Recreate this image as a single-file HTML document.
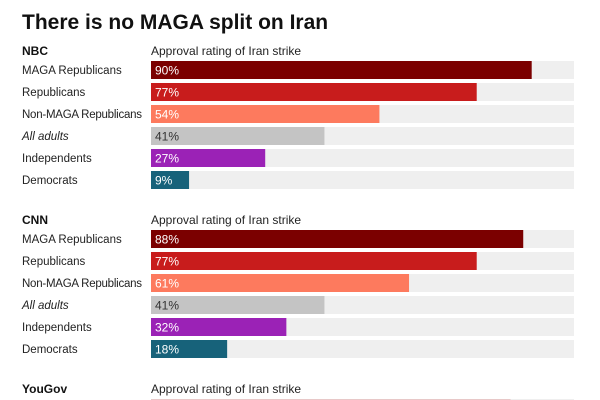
<!DOCTYPE html>
<html><head><meta charset="utf-8">
<style>
html,body{margin:0;padding:0;background:#fff;width:600px;height:400px;overflow:hidden;font-family:"Liberation Sans",sans-serif;}
svg text{font-family:"Liberation Sans",sans-serif;}
</style></head>
<body>
<svg id="chart" width="600" height="400" xmlns="http://www.w3.org/2000/svg">
<text x="22" y="29" font-size="21" font-weight="bold" fill="#111">There is no MAGA split on Iran</text>
</svg>
<script>
const pollsters = ["NBC", "CNN", "YouGov"];
const groups = ["MAGA Republicans", "Republicans", "Non-MAGA Republicans", "All adults", "Independents", "Democrats"];
const nbcValues = [90, 77, 54, 41, 27, 9];
const cnnValues = [88, 77, 61, 41, 32, 18];
const yougovValues = [85, 75, 55, 40, 25, 10];
const allValues = [nbcValues, cnnValues, yougovValues];
const colors = ["#7b0000", "#c81c1c", "#fd7a5e", "#c4c4c4", "#9b22b6", "#17627a"];

const svg = document.getElementById('chart');
const NS = "http://www.w3.org/2000/svg";
const x0 = 151, trackW = 423;
function xScale(v){ return trackW * v / 100; }
function sectionTop(i){ return 45 + i * 169; }
function rowY(s, r){ return sectionTop(s) + 16 + r * 22; }

function mk(tag, attrs){ const e = document.createElementNS(NS, tag); for (const k in attrs) e.setAttribute(k, attrs[k]); svg.appendChild(e); return e; }

pollsters.forEach((p, s) => {
  const top = sectionTop(s);
  const h = mk('text', {x: 22, y: top + 10, 'font-size': 12, 'font-weight': 'bold', fill: '#111'});
  h.textContent = p;
  
  
  const sub = mk('text', {x: x0, y: top + 10, 'font-size': 12, fill: '#222'});
  sub.textContent = "Approval rating of Iran strike";
  
  
  allValues[s].forEach((v, r) => {
    const y = rowY(s, r);
    if (y > 400) return;
    const lab = mk('text', {x: 22, y: y + 13, 'font-size': 11.5, fill: '#222'});
    if (r === 3) lab.setAttribute('font-style', 'italic');
    if (r === 2) lab.setAttribute('textLength', 120);
    lab.textContent = groups[r];
    
    
    const tr = mk('rect', {x: x0, y: y, width: trackW, height: 18, fill: '#efefef'});
    
    
    const b = mk('rect', {x: x0, y: y, width: xScale(v), height: 18, fill: s === 2 ? '#e8c8c8' : colors[r]});
    
    
    const t = mk('text', {x: x0 + 4, y: y + 13.5, 'font-size': 12, fill: r === 3 ? '#333' : '#fff'});
    t.textContent = v + "%";
    
    
  });
});
</script>
</body></html>
